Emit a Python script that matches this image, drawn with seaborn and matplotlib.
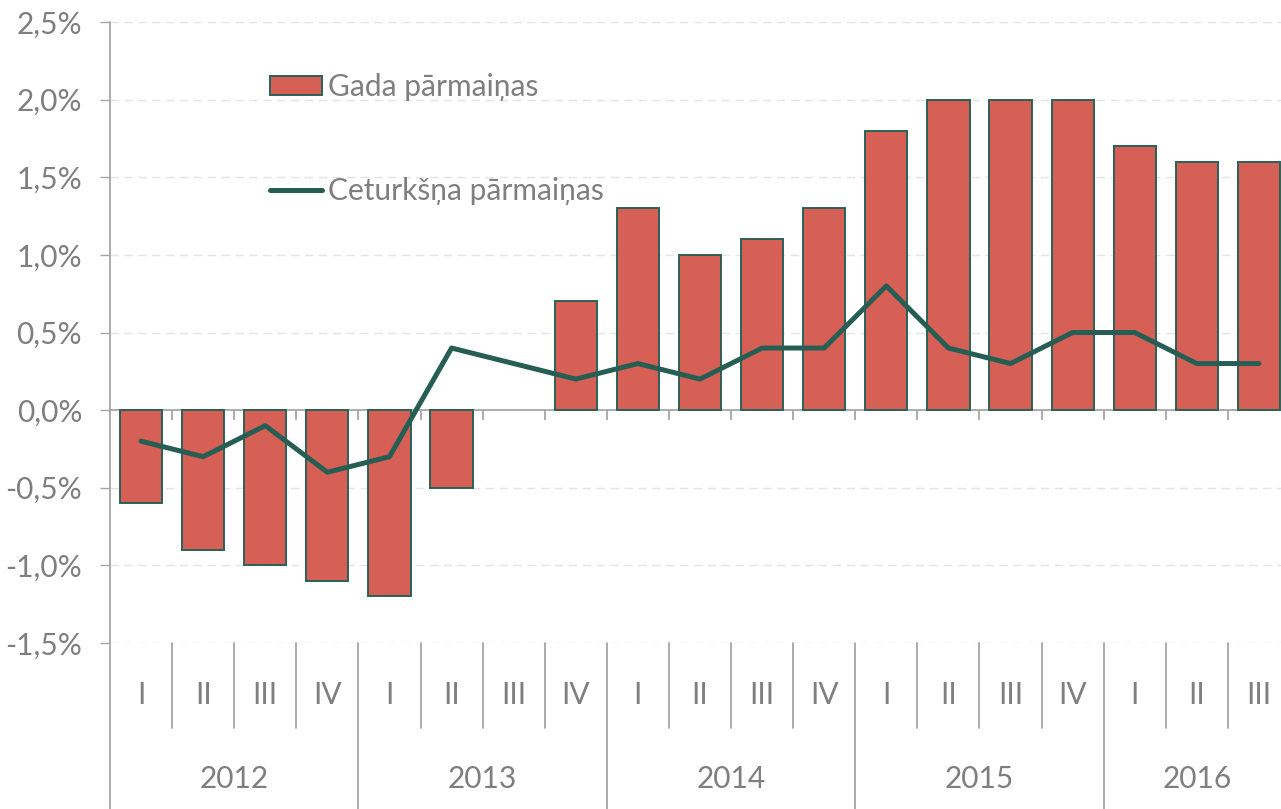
import numpy as np
import pandas as pd
import seaborn as sns
import matplotlib.pyplot as plt

# data
years = ['2012', '2013', '2014', '2015', '2016']
year_quarters = [4, 4, 4, 4, 3]
quarters = ['I', 'II', 'III', 'IV'] * 4 + ['I', 'II', 'III']
annual_change = [-0.6, -0.9, -1.0, -1.1,
                 -1.2, -0.5, np.nan, 0.7,
                 1.3, 1.0, 1.1, 1.3,
                 1.8, 2.0, 2.0, 2.0,
                 1.7, 1.6, 1.6]
quarter_change = [-0.2, -0.3, -0.1, -0.4,
                  -0.3, 0.4, 0.3, 0.2,
                  0.3, 0.2, 0.4, 0.4,
                  0.8, 0.4, 0.3, 0.5,
                  0.5, 0.3, 0.3]

year_col = [y for y, n in zip(years, year_quarters) for _ in range(n)]
df = pd.DataFrame({
    'period': [f'{y} {q}' for y, q in zip(year_col, quarters)],
    'gada': annual_change,
    'ceturksna': quarter_change,
})
df['pos'] = np.arange(len(df))

bar_color = '#D66055'
edge_color = '#2B6157'
line_color = '#275E54'
grey = '#7F7F7F'
axis_grey = '#A6A6A6'
fs = 21.5

sns.set_theme(style='white')
plt.rcParams['font.family'] = ['Lato', 'DejaVu Sans']

fig = plt.figure(figsize=(12.81, 8.09), dpi=100)
# plot area runs a little past the right edge of the image
ax = fig.add_axes([110 / 1281, 1 - 643 / 809, 1180 / 1281, (643 - 22) / 809])

ax.set_ylim(-1.5, 2.5)
yticks = np.arange(-1.5, 2.51, 0.5)
for y in yticks:
    if abs(y) > 1e-9:
        ax.axhline(y, color='#E4E4E4', lw=1, ls=(0, (6, 4)), zorder=0)

sns.barplot(data=df, x='period', y='gada', order=list(df['period']),
            color=bar_color, edgecolor=edge_color, linewidth=1.4,
            width=0.68, saturation=1, errorbar=None, ax=ax,
            label='Gada pārmaiņas', zorder=2)
sns.lineplot(data=df, x='pos', y='ceturksna', color=line_color, lw=3.6,
             ax=ax, label='Ceturkšņa pārmaiņas', zorder=3)

n = len(df)
ax.set_xlim(-0.5, n - 0.5)

# zero line with small ticks at category boundaries
ax.axhline(0, color=axis_grey, lw=1.3, zorder=1)
ax.vlines(np.arange(n) + 0.5, -0.064, 0, color=axis_grey, lw=1.3, zorder=1)

# y axis
ax.set_yticks(yticks)
ax.set_yticklabels([f'{y:.1f}%'.replace('.', ',') for y in yticks])
ax.tick_params(axis='y', left=True, length=7, width=1, color=axis_grey,
               pad=13, labelsize=fs, labelcolor=grey)
ax.set_xticks([])
ax.set_xlabel('')
ax.set_ylabel('')
for s in ax.spines.values():
    s.set_visible(False)

trans = ax.get_xaxis_transform()
ax.plot([-0.5, -0.5], [-0.267, 1], color=axis_grey, lw=1.3,
        transform=trans, clip_on=False)

# two level category axis
bounds = np.cumsum(year_quarters)
for i, q in enumerate(quarters):
    ax.text(i, -0.084, q, transform=trans, ha='center', va='center',
            fontsize=fs, color=grey)
for k in range(1, n):
    if k in bounds:
        ax.plot([k - 0.5, k - 0.5], [0, -0.267], color=axis_grey, lw=1.3,
                transform=trans, clip_on=False)
    else:
        ax.plot([k - 0.5, k - 0.5], [0, -0.137], color=axis_grey, lw=1.3,
                transform=trans, clip_on=False)
start = 0
for y, cnt in zip(years, year_quarters):
    ax.text(start + (cnt - 1) / 2, -0.219, y, transform=trans, ha='center',
            va='center', fontsize=fs, color=grey)
    start += cnt

handles, labels = ax.get_legend_handles_labels()
order = [labels.index('Gada pārmaiņas'), labels.index('Ceturkšņa pārmaiņas')]
ax.legend([handles[i] for i in order], [labels[i] for i in order],
          loc='upper left', bbox_to_anchor=(0.1355, 0.918), frameon=False,
          fontsize=fs, labelcolor=grey, handlelength=1.75,
          handleheight=0.6, handletextpad=0.2, labelspacing=2.55,
          borderpad=0, borderaxespad=0)

fig.savefig('out.png', dpi=100)
